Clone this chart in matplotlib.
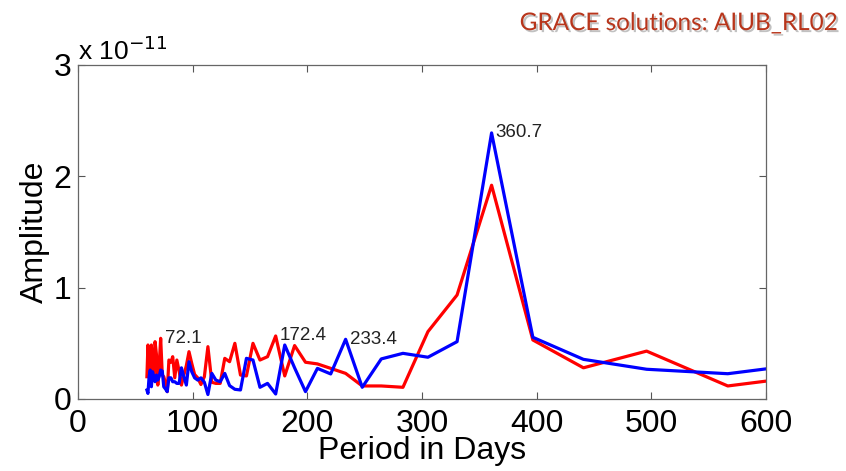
import numpy as np
import matplotlib
matplotlib.use("Agg")
import matplotlib.pyplot as plt
import matplotlib.patheffects as pe

# periods (days) and amplitudes (x 1e-11)
period = [60.1, 61.0, 62.0, 63.0, 64.0, 65.0, 66.1, 67.2, 68.4, 69.6,
          70.8, 72.1, 73.5, 74.8, 76.3, 77.8, 79.3, 81.0, 82.6, 84.4,
          86.2, 88.2, 90.2, 92.3, 94.5, 96.8, 99.2, 101.7, 104.4, 107.2,
          110.2, 113.3, 116.7, 120.2, 124.0, 128.0, 132.2, 136.8, 141.7, 146.9,
          152.6, 158.7, 165.3, 172.4, 180.3, 188.9, 198.4, 208.8, 220.4, 233.4,
          247.9, 264.5, 283.4, 305.2, 330.6, 360.7, 396.7, 440.8, 495.9, 566.7,
          661.2]

amp_red = [0.20, 0.485, 0.30, 0.155, 0.485, 0.35, 0.19, 0.515, 0.40, 0.125,
           0.30, 0.545, 0.215, 0.20, 0.14, 0.066, 0.35, 0.33, 0.38, 0.19,
           0.35, 0.25, 0.125, 0.215, 0.30, 0.425, 0.32, 0.22, 0.19, 0.13,
           0.20, 0.47, 0.15, 0.14, 0.14, 0.365, 0.335, 0.50, 0.215, 0.207,
           0.50, 0.35, 0.38, 0.566, 0.207, 0.48, 0.33, 0.315, 0.275, 0.23,
           0.117, 0.117, 0.105, 0.605, 0.934, 1.92, 0.53, 0.28, 0.43, 0.117,
           0.24]

amp_blue = [0.08, 0.05, 0.20, 0.26, 0.11, 0.245, 0.20, 0.155, 0.215, 0.17,
            0.20, 0.26, 0.25, 0.11, 0.09, 0.066, 0.19, 0.19, 0.155, 0.155,
            0.14, 0.14, 0.28, 0.20, 0.125, 0.335, 0.245, 0.19, 0.17, 0.19,
            0.15, 0.04, 0.23, 0.17, 0.155, 0.23, 0.12, 0.087, 0.081, 0.365,
            0.35, 0.105, 0.14, 0.045, 0.485, 0.28, 0.066, 0.275, 0.225, 0.536,
            0.105, 0.36, 0.41, 0.375, 0.515, 2.39, 0.554, 0.356, 0.267, 0.227,
            0.35]

# labelled peaks: (period, amplitude)
peak_labels = [(72.1, 0.545), (172.4, 0.566), (233.4, 0.536), (360.7, 2.39)]

plt.rcParams['font.family'] = ['Liberation Sans', 'DejaVu Sans']

fig = plt.figure(figsize=(8.46, 4.71), dpi=100)
ax = fig.add_axes([0.0922, 0.1529, 0.8132, 0.7091])

ax.plot(period, amp_red, color='#ff0000', lw=2.3)
ax.plot(period, amp_blue, color='#0000ff', lw=2.3)

for p, a in peak_labels:
    ax.annotate('%.1f' % p, (p, a), xytext=(3, 0), textcoords='offset points',
                fontsize=13.5, va='center', ha='left', color='#222222')

ax.set_xlim(0, 600)
ax.set_ylim(0, 3)
ax.set_xticks([0, 100, 200, 300, 400, 500, 600])
ax.set_yticks([0, 1, 2, 3])
ax.tick_params(direction='in', length=5, width=0.8, color='#555555',
               top=True, right=True, labelsize=23)
ax.tick_params(axis='x', pad=7)
ax.tick_params(axis='y', pad=5)
for s in ax.spines.values():
    s.set_color('#666666')
    s.set_linewidth(0.9)

ax.set_xlabel('Period in Days', fontsize=23, labelpad=-2)
ax.set_ylabel('Amplitude', fontsize=23, labelpad=2)

ax.text(0.0, 1.0, r'x 10$^{-11}$', transform=ax.transAxes, fontsize=19,
        ha='left', va='bottom')

fig.text(0.99, 0.95, 'GRACE solutions: AIUB_RL02', fontsize=17.5,
         family=['Lato', 'DejaVu Sans'],
         color='#b8351b', ha='right', va='center',
         path_effects=[pe.withSimplePatchShadow(offset=(1.5, -1.5),
                                                shadow_rgbFace='#999999', alpha=0.6)])

fig.savefig('out.png', dpi=100)
